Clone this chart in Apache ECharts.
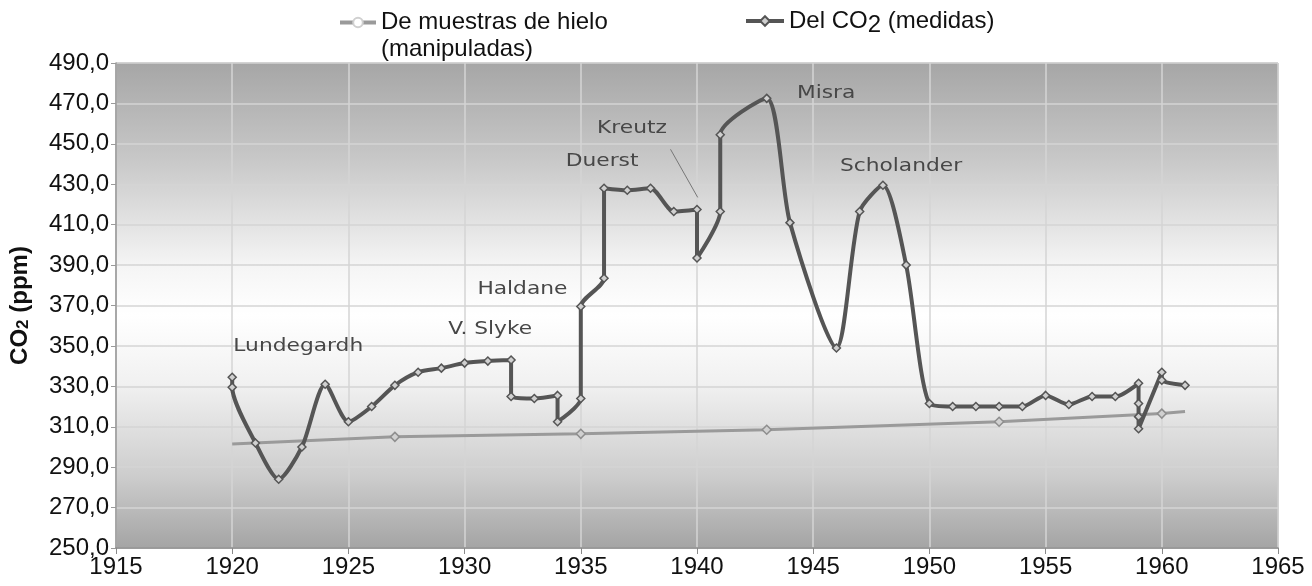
<!DOCTYPE html>
<html>
<head>
<meta charset="utf-8">
<script src="https://cdn.jsdelivr.net/npm/echarts@6/dist/echarts.min.js"></script>
<style>
  html, body { margin: 0; padding: 0; background: #fff; }
  #chart { width: 1312px; height: 586px; }
</style>
</head>
<body>
<div id="chart"></div>
<script>
// axis ticks
const xTicks = [1915, 1920, 1925, 1930, 1935, 1940, 1945, 1950, 1955, 1960, 1965];
const yTicks = [250, 270, 290, 310, 330, 350, 370, 390, 410, 430, 450, 470, 490];

// series names
const iceName = 'De muestras de hielo (manipuladas)';
const measName = 'Del CO2 (medidas)';

// ice core values
const iceYears  = [1920, 1927, 1935, 1943, 1953, 1960, 1961];
const iceValues = [301.5, 305, 306.5, 308.5, 312.5, 316.5, 317.5];

// measured values
const measYears = [1920, 1920, 1921, 1922, 1923, 1924, 1925, 1926, 1927, 1928, 1929, 1930, 1931, 1932,
  1932, 1933, 1934, 1934, 1935, 1935, 1936, 1936, 1937, 1938, 1939, 1940, 1940, 1941, 1941, 1943,
  1944, 1946, 1947, 1948, 1949, 1950, 1951, 1952, 1953, 1954, 1955, 1956, 1957, 1958, 1959, 1959,
  1959, 1959, 1960, 1960, 1961];
const measValues = [334.5, 329.5, 302, 284, 300, 331, 312.5, 320, 330.5, 337, 339, 341.5, 342.5, 343,
  325, 324, 325.5, 312.5, 324, 369.5, 383.5, 428, 427, 428, 416.5, 417.5, 393.5, 416.5, 454.5, 472.5,
  411, 349, 416.5, 429.5, 390, 321.5, 320, 320, 320, 320, 325.5, 321, 325, 325, 331.5, 321.5,
  315, 309, 337, 333, 330.5];

// author annotations
const noteNames  = ['Lundegardh', 'V. Slyke', 'Haldane', 'Duerst', 'Kreutz', 'Misra', 'Scholander'];
const noteYears  = [1920.05, 1929.3, 1930.55, 1934.35, 1935.7, 1944.3, 1946.15];
const noteValues = [349.6, 357.9, 377.7, 441.2, 457.6, 475, 438.7];
const leaderYears  = [1938.86, 1940.03];
const leaderValues = [447.3, 423.5];

const pairs = (xs, ys) => xs.map((x, i) => [x, ys[i]]);
const tickFont = "'Liberation Sans', Arial, sans-serif";

const chart = echarts.init(document.getElementById('chart'));
chart.setOption({
  animation: false,
  backgroundColor: '#fff',
  legend: [{
    data: [iceName],
    left: 338,
    top: -18,
    padding: 0,
    itemWidth: 36,
    itemHeight: 12,
    lineStyle: { width: 4 },
    formatter: n => '\n' + n.replace(' (', '\n('),
    textStyle: { fontFamily: tickFont, fontSize: 24, color: '#111', lineHeight: 27 }
  }, {
    data: [measName],
    left: 744,
    top: 9,
    padding: 0,
    itemWidth: 38,
    itemHeight: 12,
    lineStyle: { width: 4 },
    formatter: () => 'Del CO{s|2} (medidas)',
    textStyle: {
      fontFamily: tickFont, fontSize: 24, color: '#111',
      rich: { s: { fontFamily: tickFont, fontSize: 24, color: '#111', padding: [8, 0, 0, 0] } }
    }
  }],
  grid: {
    left: 115, right: 34, top: 63, bottom: 38,
    show: true,
    borderColor: '#9a9a9a',
    borderWidth: 1,
    backgroundColor: new echarts.graphic.LinearGradient(0, 0, 0, 1, [
      { offset: 0, color: '#a6a6a6' },
      { offset: 0.2, color: '#c8c8c8' },
      { offset: 0.42, color: '#f5f5f5' },
      { offset: 0.52, color: '#ffffff' },
      { offset: 0.66, color: '#f1f1f1' },
      { offset: 0.85, color: '#cdcdcd' },
      { offset: 1, color: '#a4a4a4' }
    ])
  },
  xAxis: {
    type: 'value',
    min: xTicks[0],
    max: xTicks[xTicks.length - 1],
    interval: xTicks[1] - xTicks[0],
    axisLine: { lineStyle: { color: '#8a8a8a', width: 1.5 } },
    axisTick: { show: true, length: 6, lineStyle: { color: '#8a8a8a' } },
    axisLabel: { color: '#111', fontFamily: tickFont, fontSize: 24, margin: 7, formatter: v => String(v) },
    splitLine: { show: true, lineStyle: { color: '#d4d4d4', width: 1.5 } }
  },
  yAxis: {
    type: 'value',
    min: yTicks[0],
    max: yTicks[yTicks.length - 1],
    interval: yTicks[1] - yTicks[0],
    name: 'CO{s|2} (ppm)',
    nameLocation: 'middle',
    nameGap: 84,
    nameTextStyle: {
      fontFamily: tickFont, fontSize: 24, fontWeight: 'bold', color: '#111',
      rich: { s: { fontFamily: tickFont, fontSize: 17, fontWeight: 'bold', color: '#111', padding: [6, 0, 0, 0] } }
    },
    axisLine: { show: true, lineStyle: { color: '#9a9a9a', width: 1.5 } },
    axisTick: { show: true, length: 5, lineStyle: { color: '#9a9a9a' } },
    axisLabel: {
      color: '#111', fontFamily: tickFont, fontSize: 24, margin: 7,
      formatter: v => v.toFixed(1).replace('.', ',')
    },
    splitLine: { show: true, lineStyle: { color: '#d4d4d4', width: 1.5 } }
  },
  series: [{
    name: iceName,
    type: 'line',
    data: pairs(iceYears, iceValues).map((p, i) => ({
      value: p,
      symbol: (i === 0 || i === iceYears.length - 1) ? 'none' : 'diamond'
    })),
    symbolSize: 9,
    lineStyle: { color: '#9a9a9a', width: 3 },
    itemStyle: { color: '#d0d0d0', borderColor: '#8e8e8e', borderWidth: 1.5 },
    z: 3
  }, {
    name: measName,
    type: 'line',
    data: pairs(measYears, measValues),
    smooth: 0.25,
    symbol: 'diamond',
    symbolSize: 8,
    lineStyle: { color: '#555', width: 4 },
    itemStyle: { color: '#d0d0d0', borderColor: '#555', borderWidth: 1.5 },
    z: 4
  }, {
    name: 'leader',
    type: 'line',
    data: pairs(leaderYears, leaderValues),
    symbol: 'none',
    silent: true,
    lineStyle: { color: '#777', width: 1 },
    z: 2
  }, {
    name: 'notes',
    type: 'custom',
    silent: true,
    data: noteNames.map((n, i) => [noteYears[i], noteValues[i], n]),
    renderItem: (params, api) => {
      const p = api.coord([api.value(0), api.value(1)]);
      return {
        type: 'text',
        x: p[0],
        y: p[1],
        scaleX: 1.28,
        style: {
          text: noteNames[params.dataIndex],
          fill: '#474747',
          fontFamily: "'DejaVu Sans', Verdana, sans-serif",
          fontSize: 17,
          align: 'left',
          verticalAlign: 'middle'
        }
      };
    },
    z: 5
  }]
});
</script>
</body>
</html>
